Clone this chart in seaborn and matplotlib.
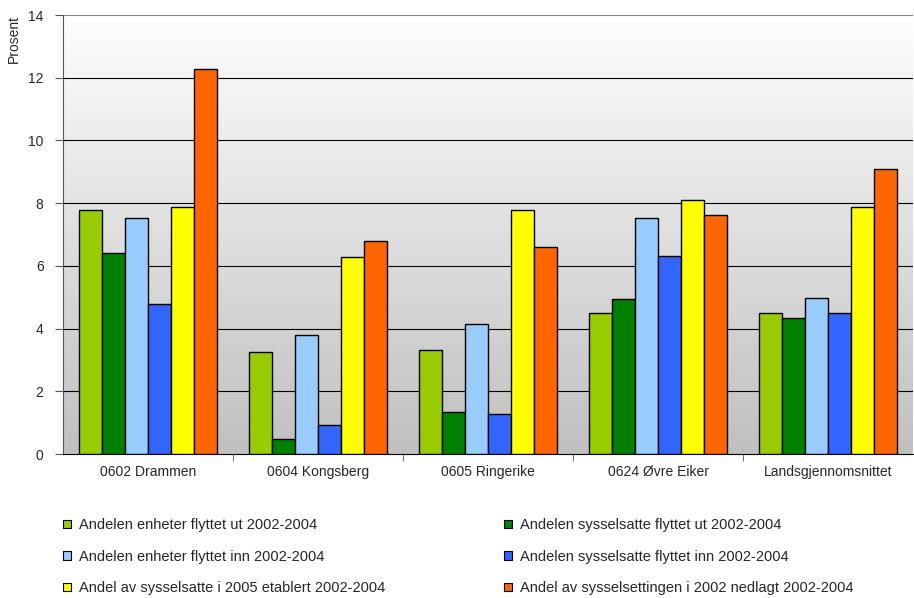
import numpy as np
import pandas as pd
import matplotlib
matplotlib.use("Agg")
import matplotlib.pyplot as plt
import seaborn as sns
from matplotlib.patches import Patch

kommuner = ["0602 Drammen", "0604 Kongsberg", "0605 Ringerike", "0624 Øvre Eiker", "Landsgjennomsnittet"]
serier = [
    "Andelen enheter flyttet ut 2002-2004",
    "Andelen sysselsatte flyttet ut 2002-2004",
    "Andelen enheter flyttet inn 2002-2004",
    "Andelen sysselsatte flyttet inn 2002-2004",
    "Andel av sysselsatte i 2005 etablert 2002-2004",
    "Andel av sysselsettingen i 2002 nedlagt 2002-2004",
]
enheter_ut = [7.78, 3.24, 3.33, 4.51, 4.51]
sysselsatte_ut = [6.40, 0.48, 1.33, 4.93, 4.33]
enheter_inn = [7.54, 3.80, 4.15, 7.54, 4.98]
sysselsatte_inn = [4.79, 0.91, 1.29, 6.31, 4.51]
etablert = [7.87, 6.27, 7.78, 8.11, 7.87]
nedlagt = [12.28, 6.79, 6.59, 7.63, 9.10]
farger = ["#99cc00", "#008000", "#99ccff", "#3366ff", "#ffff00", "#ff6600"]

verdier = [enheter_ut, sysselsatte_ut, enheter_inn, sysselsatte_inn, etablert, nedlagt]
rows = []
for s, vals in zip(serier, verdier):
    for k, v in zip(kommuner, vals):
        rows.append({"Kommune": k, "Serie": s, "Prosent": v})
df = pd.DataFrame(rows)

sns.set_style("white")
plt.rcParams["font.family"] = ["Liberation Sans", "DejaVu Sans"]

fig = plt.figure(figsize=(9.14, 5.98), dpi=100)
ax = fig.add_axes([63 / 914, 1 - 454 / 598, (913 - 63) / 914, (454 - 15) / 598])

# gradient background
grad = np.linspace(0, 1, 256).reshape(-1, 1)
ax.imshow(grad, extent=[-0.5, 4.5, 0, 14], aspect="auto", origin="upper",
          cmap=matplotlib.colors.LinearSegmentedColormap.from_list("bg", ["#fefefe", "#c0c0c0"]),
          zorder=0)

sns.barplot(data=df, x="Kommune", y="Prosent", hue="Serie", palette=farger, saturation=1,
            width=0.81, gap=0, edgecolor="black", linewidth=1, ax=ax, legend=False, zorder=3)

ax.set_xlim(-0.5, 4.5)
ax.set_ylim(0, 14)
ax.set_yticks(range(0, 15, 2))
for y in range(2, 14, 2):
    ax.axhline(y, color="black", lw=0.8, zorder=1)
ax.axhline(14, color="#808080", lw=1.5, zorder=1)

for side in ["top", "right"]:
    ax.spines[side].set_visible(False)
ax.spines["left"].set_color("#555555")
ax.spines["bottom"].set_color("black")

ax.set_xlabel("")
ax.set_ylabel("Prosent", loc="top", fontsize=10, labelpad=5)
ax.tick_params(axis="y", direction="out", length=6, pad=8, left=True, labelsize=10, color="#555555")
ax.tick_params(axis="x", which="major", length=0, labelsize=10, pad=8)
ax.set_xticks([0.5, 1.5, 2.5, 3.5], minor=True)
ax.tick_params(axis="x", which="minor", direction="out", length=5, bottom=True, color="#555555")

handles = [Patch(facecolor=c, edgecolor="black", linewidth=0.8) for c in farger]
order = [0, 2, 4, 1, 3, 5]
fig.legend([handles[i] for i in order], [serier[i] for i in order],
           ncol=2, loc="upper left", bbox_to_anchor=(50 / 914, 1 - 505 / 598),
           frameon=False, fontsize=10.5, handlelength=0.55, handleheight=0.55,
           handletextpad=0.55, labelspacing=1.2, columnspacing=8.1)

fig.savefig("out.png", dpi=100)
